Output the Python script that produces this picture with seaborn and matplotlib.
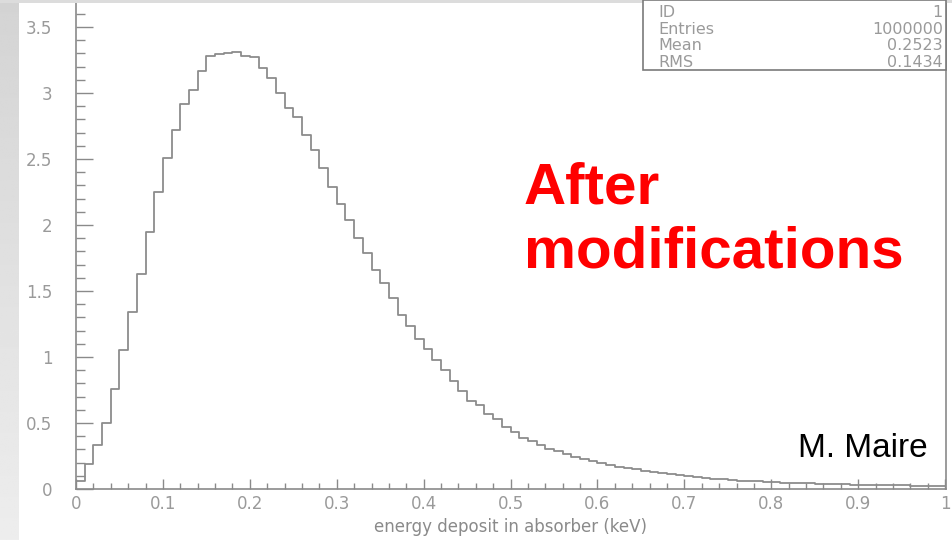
import numpy as np
import pandas as pd
import matplotlib
matplotlib.use("Agg")
import matplotlib.pyplot as plt
import seaborn as sns
from matplotlib.patches import Rectangle
from matplotlib.ticker import MultipleLocator

# energy deposit histogram, 100 bins from 0 to 1 keV
n_bins = 100
e_lo, e_hi = 0.0, 1.0
counts = [
    0.06, 0.19, 0.33, 0.50, 0.76, 1.05, 1.34, 1.63, 1.95, 2.25,
    2.51, 2.72, 2.92, 3.02, 3.17, 3.28, 3.295, 3.305, 3.31, 3.28,
    3.27, 3.19, 3.11, 3.00, 2.89, 2.82, 2.68, 2.57, 2.43, 2.29,
    2.16, 2.04, 1.90, 1.79, 1.66, 1.56, 1.45, 1.32, 1.235, 1.14,
    1.06, 0.98, 0.90, 0.82, 0.74, 0.67, 0.64, 0.57, 0.53, 0.47,
    0.43, 0.39, 0.36, 0.33, 0.30, 0.285, 0.265, 0.245, 0.23, 0.215,
    0.20, 0.185, 0.17, 0.16, 0.15, 0.14, 0.13, 0.12, 0.112, 0.104,
    0.097, 0.09, 0.084, 0.078, 0.073, 0.068, 0.064, 0.06, 0.057, 0.054,
    0.051, 0.048, 0.046, 0.044, 0.042, 0.040, 0.038, 0.036, 0.035, 0.033,
    0.032, 0.031, 0.030, 0.029, 0.028, 0.027, 0.026, 0.025, 0.024, 0.023,
]

stat_names = ["ID", "Entries", "Mean", "RMS"]
stat_values = ["1", "1000000", "0.2523", "0.1434"]

x_label = "energy deposit in absorber (keV)"
note_red = ["After", "modifications"]
note_author = "M. Maire"

edges = np.linspace(e_lo, e_hi, n_bins + 1)
df = pd.DataFrame({"energy": (edges[:-1] + edges[1:]) / 2, "w": counts})

W, H = 953, 540
fig = plt.figure(figsize=(W / 100, H / 100), dpi=100)
fig.patch.set_facecolor("white")

# slide background: grey strip on the left and along the top
bg = fig.add_axes([0, 0, 19 / W, 1])
grad = np.linspace(0.83, 0.93, 256).reshape(-1, 1)
bg.imshow(grad, cmap="gray", vmin=0, vmax=1, aspect="auto", extent=[0, 1, 0, 1], origin="upper")
bg.set_axis_off()
fig.patches.append(Rectangle((0, 1 - 3 / H), 1, 3 / H, transform=fig.transFigure,
                             facecolor="#dcdcdc", edgecolor="none", zorder=0))

ax = fig.add_axes([76 / W, 51 / H, 870 / W, 486 / H])
sns.histplot(data=df, x="energy", weights="w", bins=list(edges), element="step", fill=False,
             color="#8c8c8c", linewidth=1.3, ax=ax)

ax.set_xlim(0, 1.001)
ax.set_ylim(0, 486 / 132)
ax.set_ylabel("")
ax.set_xlabel(x_label, color="#8a8a8a", fontsize=12, labelpad=4)

for side in ["left", "bottom", "right"]:
    ax.spines[side].set_color("#8a8a8a")
    ax.spines[side].set_linewidth(1.2)
ax.spines["top"].set_visible(False)

ax.xaxis.set_minor_locator(MultipleLocator(0.02))
ax.yaxis.set_minor_locator(MultipleLocator(0.1))
ax.set_xticks(np.arange(0, 1.01, 0.1))
ax.set_xticklabels(["0", "0.1", "0.2", "0.3", "0.4", "0.5", "0.6", "0.7", "0.8", "0.9", "1"])
ax.set_yticks(np.arange(0, 3.6, 0.5))
ax.set_yticklabels(["0", "0.5", "1", "1.5", "2", "2.5", "3", "3.5"])

ax.tick_params(axis="y", which="major", direction="in", length=12, width=1, color="#8a8a8a",
               labelcolor="#9a9a9a", labelsize=12, pad=17)
ax.tick_params(axis="y", which="minor", direction="in", length=6.5, width=1, color="#8a8a8a")
ax.tick_params(axis="x", which="major", direction="in", length=7, width=1, color="#8a8a8a",
               labelcolor="#9a9a9a", labelsize=12, pad=4)
ax.tick_params(axis="x", which="minor", direction="in", length=4, width=1, color="#8a8a8a")

# stats box in the top right corner
fig.patches.append(Rectangle((643 / W, 1 - 70 / H), (946 - 643) / W, 70 / H,
                             transform=fig.transFigure, facecolor="white",
                             edgecolor="#7a7a7a", linewidth=1.2, zorder=5))
for i, (nm, val) in enumerate(zip(stat_names, stat_values)):
    yy = 1 - (12.5 + 16.7 * i) / H
    fig.text(658 / W, yy, nm, color="#9a9a9a", fontsize=11.5, va="center", ha="left", zorder=6)
    fig.text(943 / W, yy, val, color="#9a9a9a", fontsize=11.5, va="center", ha="right", zorder=6)

fig.text(524 / W, 1 - 203 / H, note_red[0], color="#ff0000", fontsize=42, fontweight="bold",
         family="Liberation Sans", ha="left", va="baseline")
fig.text(524 / W, 1 - 268 / H, note_red[1], color="#ff0000", fontsize=42, fontweight="bold",
         family="Liberation Sans", ha="left", va="baseline")
fig.text(928 / W, 1 - 457 / H, note_author, color="black", fontsize=24,
         family="Liberation Sans", ha="right", va="baseline")

fig.savefig("out.png", dpi=100)
